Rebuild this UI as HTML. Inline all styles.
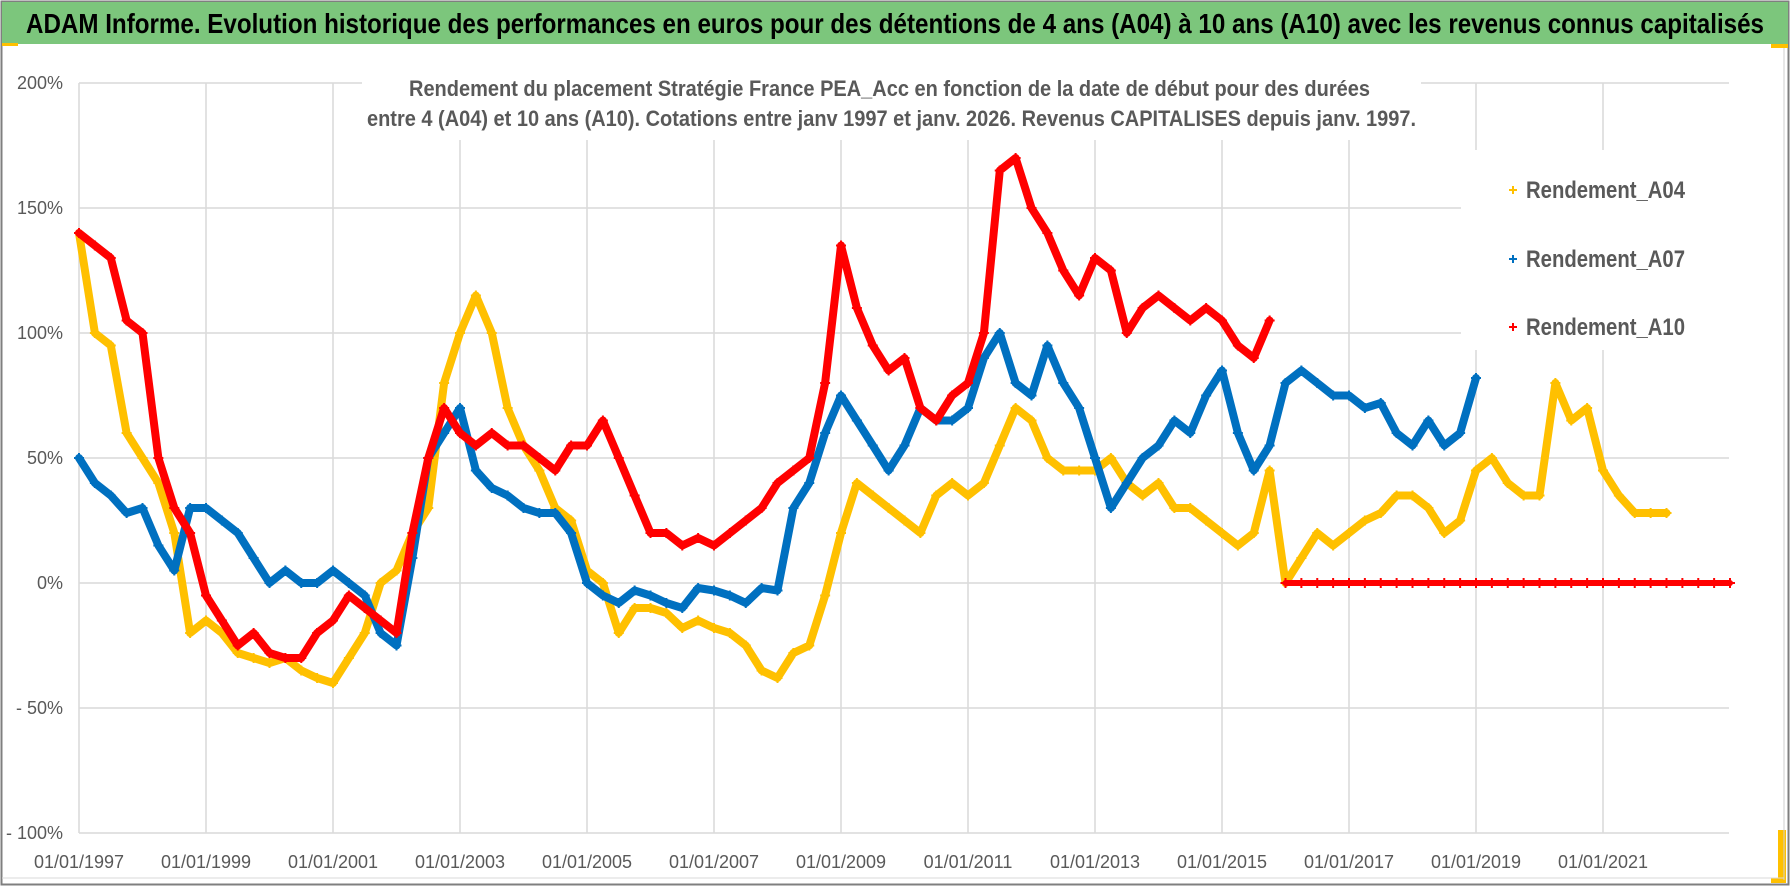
<!DOCTYPE html>
<html><head><meta charset="utf-8">
<style>
html,body{margin:0;padding:0;background:#fff;}
svg{display:block;font-family:"Liberation Sans Narrow","Liberation Sans",sans-serif;}
</style></head>
<body>
<svg id="chart" width="1790" height="887" viewBox="0 0 1790 887" xmlns="http://www.w3.org/2000/svg">
<rect x="0" y="0" width="1790" height="887" fill="#fff"/>
<rect x="1.5" y="1.5" width="1787" height="883" fill="none" stroke="#7f7f7f" stroke-width="2"/>
<rect x="2" y="2" width="1786" height="42" fill="#7cc67c"/>
<rect x="2" y="43" width="16" height="3" fill="#ffc000"/>
<rect x="1771" y="44" width="17" height="4" fill="#ffc000"/>
<rect x="1778" y="830" width="8" height="53" fill="#ffc000"/>
<rect x="1771" y="878" width="15" height="5" fill="#ffc000"/>
<line x1="1784" y1="48" x2="1784" y2="880" stroke="#cfcfcf" stroke-width="1"/>
<line x1="2" y1="878" x2="1784" y2="878" stroke="#d9d9d9" stroke-width="1"/>
<text x="26" y="33" font-size="28" font-weight="bold" fill="#000" textLength="1738" lengthAdjust="spacingAndGlyphs">ADAM Informe. Evolution historique des performances en euros pour des détentions de 4 ans (A04) à 10 ans (A10) avec les revenus connus capitalisés</text>
<g id="grid"></g>
<g id="yaxis"></g>
<g id="xaxis"></g>
<g id="series"></g>
<rect x="362" y="68" width="1059" height="72" fill="#fff"/>
<text x="409" y="96" font-size="22" font-weight="bold" fill="#595959" textLength="961" lengthAdjust="spacingAndGlyphs">Rendement du placement Stratégie France PEA_Acc en fonction de la date de début pour des durées</text>
<text x="367" y="126" font-size="22" font-weight="bold" fill="#595959" textLength="1049" lengthAdjust="spacingAndGlyphs">entre 4 (A04) et 10 ans (A10). Cotations entre janv 1997 et janv. 2026. Revenus CAPITALISES depuis janv. 1997.</text>
<g>
<rect x="1461" y="150" width="268" height="200" fill="#fff"/>
<g>
<path d="M1509 190h8M1513 186v8" stroke="#ffc000" stroke-width="2"/>
<text x="1526" y="198" font-size="24" font-weight="bold" fill="#595959" textLength="159" lengthAdjust="spacingAndGlyphs">Rendement_A04</text></g>
<g>
<path d="M1509 259h8M1513 255v8" stroke="#0070c0" stroke-width="2"/>
<text x="1526" y="267" font-size="24" font-weight="bold" fill="#595959" textLength="159" lengthAdjust="spacingAndGlyphs">Rendement_A07</text></g>
<g>
<path d="M1509 327h8M1513 323v8" stroke="#ff0000" stroke-width="2"/>
<text x="1526" y="335" font-size="24" font-weight="bold" fill="#595959" textLength="159" lengthAdjust="spacingAndGlyphs">Rendement_A10</text></g>
</g>
</svg>
<script>
const yTicks = [200, 150, 100, 50, 0, -50, -100];
const yTickLabels = ["200%", "150%", "100%", "50%", "0%", "- 50%", "- 100%"];
const xTickYears = [1997, 1999, 2001, 2003, 2005, 2007, 2009, 2011, 2013, 2015, 2017, 2019, 2021];
const xTickLabels = ["01/01/1997","01/01/1999","01/01/2001","01/01/2003","01/01/2005","01/01/2007","01/01/2009","01/01/2011","01/01/2013","01/01/2015","01/01/2017","01/01/2019","01/01/2021"];
const a04Start = 1997.0;
const a04Values = [140,100,95,60,50,40,20,-20,-15,-20,-28,-30,-32,-30,-35,-38,-40,-30,-20,0,5,20,30,80,100,115,100,70,55,45,30,25,5,0,-20,-10,-10,-12,-18,-15,-18,-20,-25,-35,-38,-28,-25,-5,20,40,35,30,25,20,35,40,35,40,55,70,65,50,45,45,45,50,40,35,40,30,30,25,20,15,20,45,0,10,20,15,20,25,28,35,35,30,20,25,45,50,40,35,35,80,65,70,45,35,28,28,28];
const a07Start = 1997.0;
const a07Values = [50,40,35,28,30,15,5,30,30,25,20,10,0,5,0,0,5,0,-5,-20,-25,10,50,60,70,45,38,35,30,28,28,20,0,-5,-8,-3,-5,-8,-10,-2,-3,-5,-8,-2,-3,30,40,60,75,65,55,45,55,70,65,65,70,90,100,80,75,95,80,70,50,30,40,50,55,65,60,75,85,60,45,55,80,85,80,75,75,70,72,60,55,65,55,60,82];
const a10Start = 1997.0;
const a10Values = [140,135,130,105,100,50,30,20,-5,-15,-25,-20,-28,-30,-30,-20,-15,-5,-10,-15,-20,20,50,70,60,55,60,55,55,50,45,55,55,65,50,35,20,20,15,18,15,20,25,30,40,45,50,80,135,110,95,85,90,70,65,75,80,100,165,170,150,140,125,115,130,125,100,110,115,110,105,110,105,95,90,105];
const a10ZeroStart = 2016.0;
const a10ZeroValues = [0,0,0,0,0,0,0,0,0,0,0,0,0,0,0,0,0,0,0,0,0,0,0,0,0,0,0,0,0];
const STEP = 0.25;

const NS = "http://www.w3.org/2000/svg";
const X0 = 79, X1 = 1729, Y0 = 83, Y1 = 833;
const YEAR0 = 1997, PXYEAR = 63.5;
function xScale(yr){ return X0 + (yr - YEAR0) * PXYEAR; }
function yScale(v){ return Y1 - (v + 100) / 300 * (Y1 - Y0); }
function mk(tag, attrs, parent){ const e = document.createElementNS(NS, tag); for (const k in attrs) e.setAttribute(k, attrs[k]); parent.appendChild(e); return e; }

const grid = document.getElementById('grid');
yTicks.forEach(function(t){
  const l = mk('line', {x1: X0, x2: X1, y1: yScale(t), y2: yScale(t), stroke: '#d9d9d9', 'stroke-width': 1.5}, grid);
  
  
});
xTickYears.forEach(function(y){
  const l = mk('line', {x1: xScale(y), x2: xScale(y), y1: Y0, y2: Y1, stroke: '#d9d9d9', 'stroke-width': 1.5}, grid);
  
  
});
const yax = document.getElementById('yaxis');
yTicks.forEach(function(t, i){
  const tx = mk('text', {x: 63, y: yScale(t) + 6, 'text-anchor': 'end', 'font-size': 18, fill: '#595959', 'font-family': '"Liberation Sans Narrow","Liberation Sans",sans-serif'}, yax);
  tx.textContent = yTickLabels[i];
  
  
});
const xax = document.getElementById('xaxis');
xTickYears.forEach(function(y, i){
  const tx = mk('text', {x: xScale(y), y: 868, 'text-anchor': 'middle', 'font-size': 18, fill: '#595959', 'font-family': '"Liberation Sans Narrow","Liberation Sans",sans-serif'}, xax);
  tx.textContent = xTickLabels[i];
  
  
});

const layer = document.getElementById('series');
function drawSeries(start, values, color, name, width){
  const g = mk('g', {}, layer);
  
  
  let d = '';
  values.forEach(function(v, i){
    const x = xScale(start + i * STEP), y = yScale(v);
    d += (i ? 'L' : 'M') + x.toFixed(1) + ' ' + y.toFixed(1);
  });
  mk('path', {d: d, fill: 'none', stroke: color, 'stroke-width': width, 'stroke-linejoin': 'round', 'stroke-linecap': 'round'}, g);
  values.forEach(function(v, i){
    const x = xScale(start + i * STEP), y = yScale(v);
    const p = mk('path', {d: 'M' + (x - 5) + ' ' + y + 'h10M' + x + ' ' + (y - 5) + 'v10', stroke: color, 'stroke-width': 2}, g);
    
    
  });
}
drawSeries(a04Start, a04Values, '#ffc000', 'series-a04', 8);
drawSeries(a07Start, a07Values, '#0070c0', 'series-a07', 8);
drawSeries(a10Start, a10Values, '#ff0000', 'series-a10', 8);
drawSeries(a10ZeroStart, a10ZeroValues, '#ff0000', 'series-a10-zero', 6);
</script>
</body></html>
